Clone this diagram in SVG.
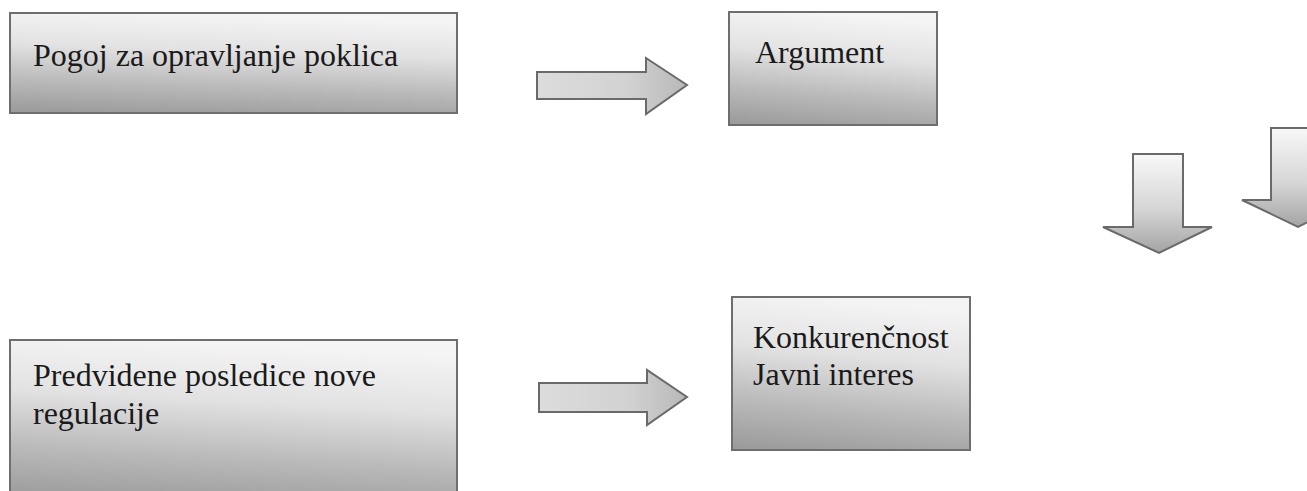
<svg xmlns="http://www.w3.org/2000/svg" width="1307" height="491" viewBox="0 0 1307 491">
  <defs>
    <linearGradient id="boxGrad" x1="0.35" y1="0" x2="0.2" y2="1">
      <stop offset="0" stop-color="#f4f4f4"/>
      <stop offset="0.35" stop-color="#e2e2e2"/>
      <stop offset="0.7" stop-color="#bababa"/>
      <stop offset="1" stop-color="#9c9c9c"/>
    </linearGradient>
    <linearGradient id="downGrad" x1="0" y1="0" x2="0" y2="1">
      <stop offset="0" stop-color="#f8f8f8"/>
      <stop offset="0.55" stop-color="#d6d6d6"/>
      <stop offset="1" stop-color="#a4a4a4"/>
    </linearGradient>
    <linearGradient id="rightGrad" x1="0" y1="0" x2="1" y2="0">
      <stop offset="0" stop-color="#dcdcdc"/>
      <stop offset="0.6" stop-color="#d2d2d2"/>
      <stop offset="1" stop-color="#b8b8b8"/>
    </linearGradient>
  </defs>
  <style>
    .box { fill: url(#boxGrad); stroke: #6e6e6e; stroke-width: 2; }
    .rarrow { fill: url(#rightGrad); stroke: #6a6a6a; stroke-width: 2; }
    .darrow { fill: url(#downGrad); stroke: #6a6a6a; stroke-width: 2; }
    .label { font-size: 32px; fill: #1a1a1a; }
  </style>

  <g id="node-pogoj">
    <rect class="box" x="10" y="13" width="447" height="100"/>
    <text class="label" font-family="'Liberation Serif', 'Times New Roman', serif" x="33" y="66">Pogoj za opravljanje poklica</text>
  </g>

  <g id="node-argument">
    <rect class="box" x="729" y="12" width="208" height="113"/>
    <text class="label" font-family="'Liberation Serif', 'Times New Roman', serif" x="755" y="63">Argument</text>
  </g>

  <g id="node-predvidene">
    <rect class="box" x="10" y="340" width="447" height="160"/>
    <text class="label" font-family="'Liberation Serif', 'Times New Roman', serif" x="33" y="386">Predvidene posledice nove</text>
    <text class="label" font-family="'Liberation Serif', 'Times New Roman', serif" x="33" y="424">regulacije</text>
  </g>

  <g id="node-konkurencnost">
    <rect class="box" x="732" y="297" width="238" height="153"/>
    <text class="label" font-family="'Liberation Serif', 'Times New Roman', serif" x="753" y="348">Konkurenčnost</text>
    <text class="label" font-family="'Liberation Serif', 'Times New Roman', serif" x="753" y="385">Javni interes</text>
  </g>

  <g id="connectors">
    <path class="rarrow" d="M537,72 H646 V58 L687,85 L646,114 V99 H537 Z"/>
    <path class="rarrow" d="M539,383 H647 V370 L687,397 L647,425 V412 H539 Z"/>
    <path class="darrow" d="M1133,154 H1183 V227 H1212 L1159,253 L1103,227 H1133 Z"/>
    <path class="darrow" d="M1271,128 H1322 V200 H1352 L1298,227 L1242,200 H1271 Z"/>
  </g>
</svg>
